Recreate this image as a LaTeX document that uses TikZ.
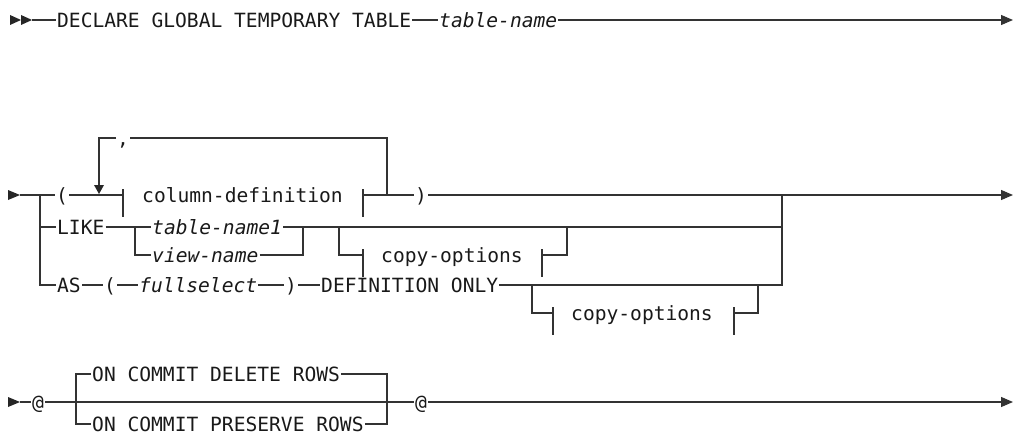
\documentclass[tikz,border=0pt]{standalone}
\usepackage{fontspec}
\newfontfamily\dfont{DejaVu Sans Mono}
\usetikzlibrary{arrows.meta}
\newcommand\rrfont{\dfont\fontsize{19.6}{23}\selectfont}
\newcommand\fragbar[1]{\draw[rail] ([yshift=6pt]#1) -- ([yshift=-22pt]#1);}
\begin{document}
\begin{tikzpicture}[x=1pt,y=-1pt,
  rail/.style={line width=1.1pt, draw=black!80},
  kw/.style={font=\rrfont, text=black!90, inner xsep=1pt, inner ysep=0pt, text height=14.3pt, text depth=0pt, anchor=west},
  var/.style={kw, font=\rrfont\itshape},
  tip/.style={-{Triangle[length=12pt,width=10pt]}},
  head/.style={fill=black!85}
]
\useasboundingbox (0,0) rectangle (1015,436);

% ---------- row 1
\coordinate (s1) at (32,20);
\node[kw] (decl) at (56,20) {DECLARE GLOBAL TEMPORARY TABLE};
\node[var] (tname) at (438,20) {table-name};
\coordinate (e1) at (1013,20);
\fill[head] (10,15) -- (21,20) -- (10,25) -- cycle;
\fill[head] (21,15) -- (32,20) -- (21,25) -- cycle;
\draw[rail] (s1) -- (decl.west);
\draw[rail] (decl.east) -- (tname.west);
\draw[rail,tip] (tname.east) -- (e1);

% ---------- row 2
\fill[head] (8,190) -- (20,195) -- (8,200) -- cycle;
\coordinate (s2) at (20,195);
\coordinate (jL) at (40,195);
\node[kw] (lpar) at (55,195) {(};
\coordinate (cdl) at (123,195);
\node[kw] (cd) at (141,195) {column-definition};
\coordinate (cdr) at (363,195);
\coordinate (loopR) at (387,195);
\node[kw] (rpar) at (414,195) {)};
\coordinate (jR) at (782,195);
\coordinate (e2) at (1013,195);
\node[kw] (comma) at (116,138) {,};
\coordinate (loopL) at (99,185);

\draw[rail] (s2) -- (jL) -- (lpar.west);
\draw[rail] (lpar.east) -- (cdl);
\fragbar{cdl}
\fragbar{cdr}
\draw[rail] (cdr) -- (rpar.west);
\draw[rail] (loopR) |- (comma.east);
\draw[rail] (comma.west) -| (loopL);
\fill[head] (94,185) -- (104,185) -- (99,194) -- cycle;
\draw[rail,tip] (rpar.east) -- (e2);

% LIKE branch
\node[kw] (like) at (56,227) {LIKE};
\coordinate (jA) at (135,227);
\node[var] (tn1) at (151,227) {table-name1};
\node[var] (vn) at (151,255) {view-name};
\coordinate (jB) at (303,227);
\draw[rail] (jL |- like.west) -- (like.west);
\draw[rail] (like.east) -- (jA) -- (tn1.west);
\draw[rail] (jA) |- (vn.west);
\draw[rail] (vn.east) -| (jB);
\draw[rail] (tn1.east) -- (jR |- tn1.west);
\coordinate (jC) at (339,227);
\coordinate (c1l) at (363,255);
\node[kw] (co1) at (380,255) {copy-options};
\coordinate (c1r) at (542,255);
\coordinate (jD) at (567,227);
\draw[rail] (jC) |- (c1l);
\fragbar{c1l}
\fragbar{c1r}
\draw[rail] (c1r) -| (jD);

% AS branch
\node[kw] (as) at (56,285) {AS};
\node[kw] (lp2) at (103,285) {(};
\node[var] (fs) at (138,285) {fullselect};
\node[kw] (rp2) at (284,285) {)};
\node[kw] (def) at (320,285) {DEFINITION ONLY};
\draw[rail] (jL) |- (as.west);
\draw[rail] (as.east) -- (lp2.west);
\draw[rail] (lp2.east) -- (fs.west);
\draw[rail] (fs.east) -- (rp2.west);
\draw[rail] (rp2.east) -- (def.west);
\draw[rail] (def.east) -| (jR);
\coordinate (jE) at (532,285);
\coordinate (c2l) at (553,313);
\node[kw] (co2) at (570,313) {copy-options};
\coordinate (c2r) at (734,313);
\coordinate (jG) at (758,285);
\draw[rail] (jE) |- (c2l);
\fragbar{c2l}
\fragbar{c2r}
\draw[rail] (c2r) -| (jG);

% ---------- row 3
\fill[head] (8,397) -- (20,402) -- (8,407) -- cycle;
\coordinate (s3) at (20,402);
\node[kw] (at1) at (31,402) {@};
\coordinate (jF) at (76,402);
\node[kw] (del) at (91,374) {ON COMMIT DELETE ROWS};
\node[kw] (pres) at (91,424) {ON COMMIT PRESERVE ROWS};
\coordinate (jH) at (387,402);
\node[kw] (at2) at (414,402) {@};
\coordinate (e3) at (1013,402);
\draw[rail] (s3) -- (at1.west);
\draw[rail] (at1.east) -- (at2.west);
\draw[rail] (del.west) -| (jF) |- (pres.west);
\draw[rail] (del.east) -| (jH) |- (pres.east);
\draw[rail,tip] (at2.east) -- (e3);
\end{tikzpicture}
\end{document}
